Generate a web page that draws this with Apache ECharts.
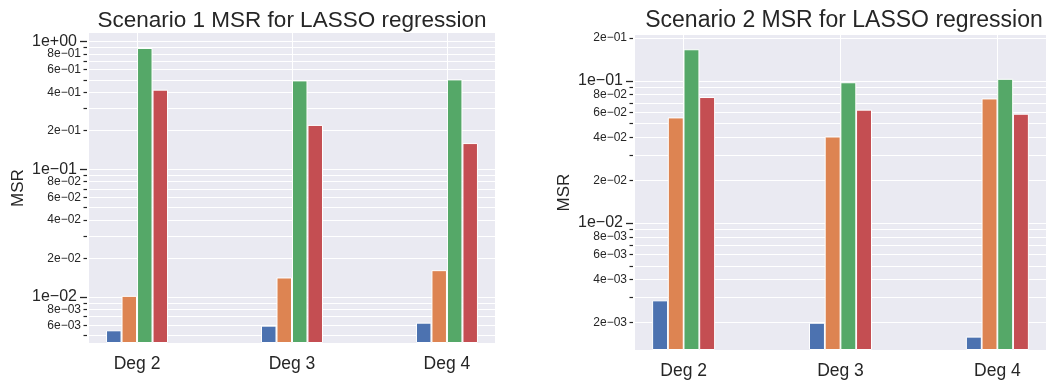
<!DOCTYPE html>
<html>
<head>
<meta charset="utf-8">
<title>MSR for LASSO regression</title>
<script src="https://cdn.jsdelivr.net/npm/echarts@6/dist/echarts.min.js"></script>
<style>
  html, body { margin: 0; padding: 0; background: #ffffff; }
  #chart { width: 1046px; height: 380px; }
</style>
</head>
<body>
<div id="chart"></div>
<script>
// Polynomial degree groups on the x axis
const categories = ['Deg 2', 'Deg 3', 'Deg 4'];
const methodNames = ['Method 1', 'Method 2', 'Method 3', 'Method 4'];

// Scenario 1: mean squared residual per method, one value per degree
const s1Method1 = [0.00548, 0.00596, 0.00629];
const s1Method2 = [0.0102, 0.0142, 0.0162];
const s1Method3 = [0.888, 0.495, 0.504];
const s1Method4 = [0.419, 0.222, 0.160];

// Scenario 2
const s2Method1 = [0.00286, 0.00199, 0.00159];
const s2Method2 = [0.0553, 0.0406, 0.0752];
const s2Method3 = [0.1667, 0.0977, 0.1033];
const s2Method4 = [0.0769, 0.0627, 0.0587];

// Log-axis tick values: labelled decades and labelled minor values
const s1MajorTicks = [0.01, 0.1, 1];
const s1MinorLabels = [0.006, 0.008, 0.02, 0.04, 0.06, 0.08, 0.2, 0.4, 0.6, 0.8];
const s2MajorTicks = [0.01, 0.1];
const s2MinorLabels = [0.002, 0.004, 0.006, 0.008, 0.02, 0.04, 0.06, 0.08, 0.2];

const palette = ['#4C72B0', '#DD8452', '#55A868', '#C44E52'];
const textColor = '#262626';
const fontFamily = '"Liberation Sans", Arial, sans-serif';
const barOffsets = [-0.15, -0.05, 0.05, 0.15];
const barUnits = 0.1;
const xMin = -0.31, xMax = 2.31;

// 1e-02 style labels with a true minus sign
function sciLabel(v) {
  const e = Math.floor(Math.log10(v) + 1e-9);
  const m = Math.round(v / Math.pow(10, e));
  const sign = e < 0 ? '\u2212' : '+';
  return m + 'e' + sign + String(Math.abs(e)).padStart(2, '0');
}

// every 2..9 x 10^k value inside [lo, hi]
function minorTicks(lo, hi) {
  const out = [];
  for (let k = Math.floor(Math.log10(lo)); k <= Math.ceil(Math.log10(hi)); k++) {
    for (let m = 2; m <= 9; m++) {
      const v = Number((m * Math.pow(10, k)).toPrecision(3));
      if (v >= lo && v <= hi) out.push(v);
    }
  }
  return out;
}

const W = 1046;
const panels = [
  {
    title: 'Scenario 1 MSR for LASSO regression',
    grid: { left: 89, right: 551, top: 33, bottom: 37 },
    yMin: 0.00436, yMax: 1.163,
    majors: s1MajorTicks, minorLabels: s1MinorLabels,
    values: [s1Method1, s1Method2, s1Method3, s1Method4],
    titleTop: 9, titleSize: 22.5
  },
  {
    title: 'Scenario 2 MSR for LASSO regression',
    grid: { left: 635, right: -7, top: 35, bottom: 28 },
    yMin: 0.00128, yMax: 0.210,
    majors: s2MajorTicks, minorLabels: s2MinorLabels,
    values: [s2Method1, s2Method2, s2Method3, s2Method4],
    titleTop: 9, titleSize: 23
  }
];

const option = {
  animation: false,
  textStyle: { fontFamily: fontFamily, color: textColor },
  title: [], grid: [], xAxis: [], yAxis: [], series: []
};

panels.forEach((p, gi) => {
  const gw = W - p.grid.left - p.grid.right;
  const barWidth = gw * barUnits / (xMax - xMin);
  option.title.push({
    text: p.title,
    left: p.grid.left + gw / 2,
    textAlign: 'center',
    top: p.titleTop,
    padding: 0,
    textStyle: { fontSize: p.titleSize, fontWeight: 'normal', color: textColor, fontFamily: fontFamily }
  });
  option.grid.push(Object.assign({
    show: true, backgroundColor: '#EAEAF2', borderWidth: 0
  }, p.grid));
  option.xAxis.push({
    type: 'value', gridIndex: gi, min: xMin, max: xMax,
    axisLine: { show: false, onZero: false },
    axisTick: { show: false, customValues: [0, 1, 2] },
    splitLine: { show: true, lineStyle: { color: '#ffffff', width: 1 } },
    axisLabel: {
      customValues: [0, 1, 2],
      formatter: v => categories[Math.round(v)],
      fontSize: 17.5, color: textColor, margin: 12
    }
  });
  const minors = minorTicks(p.yMin, p.yMax);
  // decade axis: long ticks, large labels
  option.yAxis.push({
    type: 'log', gridIndex: gi, min: p.yMin, max: p.yMax, startValue: p.yMin,
    position: 'left', offset: 2,
    name: 'MSR', nameLocation: 'middle', nameGap: 60, nameRotate: 90,
    nameTextStyle: { fontSize: 17, color: textColor },
    axisLine: { show: false, onZero: false },
    axisTick: { show: true, length: 7, customValues: p.majors,
                lineStyle: { color: textColor, width: 1.3 } },
    axisLabel: { customValues: p.majors, formatter: sciLabel,
                 fontSize: 16, color: textColor, margin: 10 },
    splitLine: { show: true, lineStyle: { color: '#ffffff', width: 1 } }
  });
  // minor axis: short ticks at 2..9, small labels at even multiples
  option.yAxis.push({
    type: 'log', gridIndex: gi, min: p.yMin, max: p.yMax,
    position: 'left', offset: 2,
    axisLine: { show: false, onZero: false },
    axisTick: { show: true, length: 3.5, customValues: minors,
                lineStyle: { color: textColor, width: 1.2 } },
    axisLabel: { customValues: p.minorLabels, formatter: sciLabel,
                 fontSize: 12, color: textColor, margin: 6 },
    splitLine: { show: true, lineStyle: { color: '#ffffff', width: 1 } }
  });
  p.values.forEach((vals, si) => {
    option.series.push({
      type: 'bar', name: methodNames[si],
      xAxisIndex: gi, yAxisIndex: gi * 2,
      barWidth: barWidth, barGap: '-100%',
      itemStyle: { color: palette[si], borderColor: '#ffffff', borderWidth: 1 },
      data: vals.map((v, j) => [j + barOffsets[si], v])
    });
  });
});

const chart = echarts.init(document.getElementById('chart'), null, { renderer: 'canvas' });
chart.setOption(option);
</script>
</body>
</html>
